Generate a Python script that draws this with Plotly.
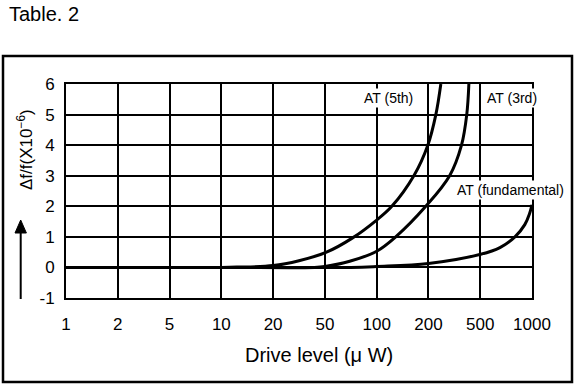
import numpy as np
import plotly.graph_objects as go

# Tick labels of the drive-level axis (equally spaced on the chart)
drive_ticks = [1, 2, 5, 10, 20, 50, 100, 200, 500, 1000]
y_ticks = [-1, 0, 1, 2, 3, 4, 5, 6]

# AT (5th)
at5_uw = [1, 5, 10, 12.3, 20, 31.6, 50.7, 71.7, 100, 122.5, 164.5, 198.3, 228, 249]
at5_df = [0, 0, 0, 0.01, 0.06, 0.22, 0.49, 0.95, 1.55, 2.0, 3.0, 4.0, 5.0, 6.0]

# AT (3rd)
at3_uw = [1, 10, 41.6, 50, 69.7, 100, 129, 193, 291, 359, 394, 409]
at3_df = [0, 0, 0, 0.03, 0.2, 0.53, 1.0, 2.0, 3.0, 4.0, 5.0, 6.0]

# AT (fundamental)
atf_uw = [1, 10, 70.7, 100, 200, 503, 651, 796, 908, 966, 1000]
atf_df = [0, 0, 0, 0.03, 0.13, 0.43, 0.65, 1.0, 1.4, 1.75, 2.05]

pos_idx = np.arange(len(drive_ticks))
log_ticks = np.log10(drive_ticks)


def to_pos(vals):
    return np.interp(np.log10(vals), log_ticks, pos_idx)


FONT = "Arial, Liberation Sans, sans-serif"

fig = go.Figure()
for xs, ys in [(at5_uw, at5_df), (at3_uw, at3_df), (atf_uw, atf_df)]:
    fig.add_trace(go.Scatter(
        x=to_pos(xs), y=ys, mode="lines",
        line=dict(color="black", width=3, shape="spline", smoothing=1.0),
        showlegend=False, hoverinfo="skip", cliponaxis=True))

W, H = 578, 386
L, R, T, B = 66, 46, 84, 88
pw, ph = W - L - R, H - T - B


def px_x(x):
    return (x - L) / pw


def px_y(y):
    return (H - B - y) / ph


fig.update_layout(
    width=W, height=H,
    margin=dict(l=L, r=R, t=T, b=B, pad=0),
    paper_bgcolor="white", plot_bgcolor="white",
    font=dict(family=FONT, color="black", size=17),
    xaxis=dict(range=[0, 9], tickmode="array", tickvals=list(pos_idx),
               ticktext=[str(v) for v in drive_ticks],
               showgrid=True, gridcolor="black", gridwidth=1.5,
               showline=True, linecolor="black", linewidth=2, mirror=True,
               ticks="outside", ticklen=10, tickcolor="rgba(0,0,0,0)",
               zeroline=False, tickfont=dict(size=17)),
    yaxis=dict(range=[-1, 6], tickmode="array", tickvals=y_ticks,
               ticktext=[str(v) for v in y_ticks],
               showgrid=True, gridcolor="black", gridwidth=1.5,
               showline=True, linecolor="black", linewidth=2, mirror=True,
               ticks="outside", ticklen=6, tickcolor="rgba(0,0,0,0)",
               zeroline=False, tickfont=dict(size=17)),
)

# outer frame
fig.add_shape(type="rect", xref="paper", yref="paper",
              x0=px_x(3), x1=px_x(572), y0=px_y(382), y1=px_y(56),
              line=dict(color="black", width=2.5), layer="below")

# upward arrow beside the y title (shaft + head)
fig.add_shape(type="line", xref="paper", yref="paper",
              x0=px_x(20.7), x1=px_x(20.7), y0=px_y(299), y1=px_y(230),
              line=dict(color="black", width=2))
fig.add_shape(type="path", xref="paper", yref="paper",
              path=f"M {px_x(15)} {px_y(233)} L {px_x(20.7)} {px_y(220)} "
                   f"L {px_x(26.4)} {px_y(233)} Z",
              fillcolor="black", line=dict(color="black", width=1))

annos = [
    dict(text="Table. 2", x=px_x(7), y=px_y(14), xanchor="left", yanchor="middle",
         font=dict(size=20)),
    dict(text="Drive level (μ W)", x=px_x(319), y=px_y(355), xanchor="center",
         yanchor="middle", font=dict(size=20)),
    dict(text="Δf/f(X10<sup>−6</sup>)", x=px_x(25), y=px_y(150), xanchor="center",
         yanchor="middle", textangle=-90, font=dict(size=17)),
    dict(text="AT (5th)", x=px_x(388.5), y=px_y(98), xanchor="center", yanchor="middle",
         font=dict(size=14), bgcolor="white", borderpad=1),
    dict(text="AT (3rd)", x=px_x(512), y=px_y(98), xanchor="center", yanchor="middle",
         font=dict(size=14), bgcolor="white", borderpad=1),
    dict(text="AT (fundamental)", x=px_x(510.5), y=px_y(190), xanchor="center",
         yanchor="middle", font=dict(size=14), bgcolor="white", borderpad=1),
]
for a in annos:
    fig.add_annotation(xref="paper", yref="paper", showarrow=False, **a)

fig.write_html("out.html", config={"displayModeBar": False},
               post_script="document.body.style.margin='0';")
